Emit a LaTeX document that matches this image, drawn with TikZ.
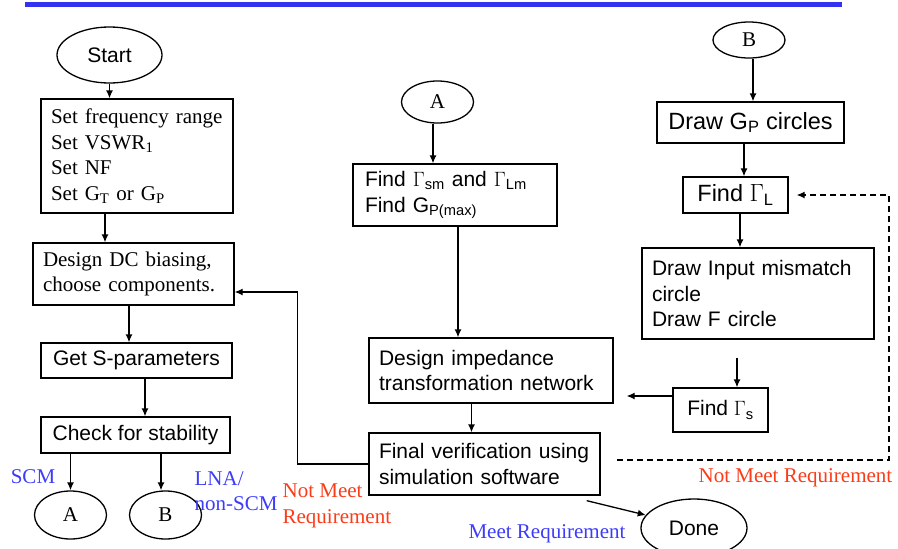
\documentclass[tikz,border=0pt]{standalone}
\usepackage{fontspec}
\setmainfont{Liberation Serif}
\setsansfont{Liberation Sans}
\usetikzlibrary{shapes.geometric,calc,arrows.meta}
\definecolor{barblue}{RGB}{50,50,240}
\definecolor{lblue}{RGB}{60,60,250}
\definecolor{lred}{RGB}{250,60,25}
\newcommand{\fsz}{\fontsize{21}{25.5}\selectfont}
\newcommand{\fbig}{\fontsize{23.5}{28}\selectfont}
\newcommand{\gam}[1]{$\Gamma$\textsubscript{#1}}

\begin{document}
\begin{tikzpicture}[x=1pt,y=-1pt,>={Latex[length=8pt,width=7pt]},line width=1.3pt,
    box/.style={draw,rectangle,inner xsep=10pt,inner ysep=0pt,font=\sffamily\fsz},
    lbox/.style={box,align=left},
    oval/.style={draw,ellipse,inner sep=0pt,font=\fsz},
    lbl/.style={inner sep=0pt,font=\fsz,align=left}]
  \useasboundingbox (0,0) rectangle (898,549);
  \fill[barblue] (25,2) rectangle (842,7);

  % left column
  \begin{scope}
    \node[oval,font=\sffamily\fsz,minimum width=105,minimum height=56] (start) at (109.5,55) {Start};
    \node[lbox,font=\rmfamily\fsz,text width=172,minimum height=114] (setup) at (137,156)
      {Set frequency range\\Set VSWR\textsubscript{1}\\Set NF\\Set G\textsubscript{T} or G\textsubscript{P}};
    \node[lbox,font=\rmfamily\fsz,text width=181,minimum height=62] (bias) at (133.5,274)
      {Design DC biasing,\\choose components.};
    \node[box,minimum width=191,minimum height=35] (spar) at (136.5,360.5) {Get S-parameters};
    \node[box,minimum width=189,minimum height=36] (stab) at (135.5,435) {Check for stability};
    \node[oval,minimum width=72,minimum height=48] (goA) at (70.5,515) {A};
    \node[oval,minimum width=72,minimum height=48] (goB) at (165.5,515) {B};

    \draw[->] (start.south) -- (start.south |- setup.north);
    \draw[->] ([xshift=-32pt]setup.south) -- ([xshift=-32pt]setup.south |- bias.north);
    \draw[->] ([xshift=-4.5pt]bias.south) -- ([xshift=-4.5pt]bias.south |- spar.north);
    \draw[->] ([xshift=8.5pt]spar.south) -- ([xshift=8.5pt]spar.south |- stab.north);
    \draw[->] (stab.south -| goA.north) -- (goA.north);
    \draw[->] ([xshift=-4.5pt]goB.north |- stab.south) -- ([xshift=-4.5pt]goB.north);

    \node[lbl,lblue] (scm) at (33,477) {SCM};
    \node[lbl,lblue,anchor=west] (lna) at (194,491) {LNA/\\non-SCM};
  \end{scope}

  % middle column
  \begin{scope}
    \node[oval,minimum width=72,minimum height=42] (fromA) at (437.5,102) {A};
    \node[lbox,inner xsep=12pt,text width=180,minimum height=62] (gmax) at (455,195)
      {Find \gam{sm} and \gam{Lm}\\Find G\textsubscript{P(max)}};
    \node[lbox,text width=224,minimum height=65] (imp) at (491,370.5)
      {Design impedance\\transformation network};
    \node[lbox,text width=211,minimum height=62] (fin) at (484.5,464)
      {Final verification using\\simulation software};
    \node[oval,font=\sffamily\fsz,minimum width=106,minimum height=58] (done) at (694,528) {Done};

    \draw[->] ([xshift=-4.5pt]fromA.south) -- ([xshift=-4.5pt]fromA.south |- gmax.north);
    \draw[->] ([xshift=3pt]gmax.south) -- ([xshift=3pt]gmax.south |- imp.north);
    \draw[->] ([xshift=-19.5pt]imp.south) -- ([xshift=-19.5pt]imp.south |- fin.north);
    \draw[->] ([xshift=-14pt,yshift=-5pt]fin.south east) -- (done.165);
    \draw[->] (fin.west) -- ++(-71,0) |- ([yshift=-18pt]bias.east);

    \node[lbl,lred,anchor=west] (nmleft) at (282,506) {Not Meet\\Requirement};
    \node[lbl,lblue] (meet) at (547,534) {Meet Requirement};
  \end{scope}

  % right column
  \begin{scope}
    \node[oval,minimum width=72,minimum height=36] (fromB) at (749,40) {B};
    \node[box,font=\sffamily\fbig,minimum width=187,minimum height=41] (gpc) at (750.5,122.5)
      {Draw G\textsubscript{P} circles};
    \node[box,font=\sffamily\fbig,minimum width=105,minimum height=36] (findL) at (735.5,195)
      {Find \gam{L}};
    \node[lbox,text width=212,minimum height=91] (mism) at (758,293.5)
      {Draw Input mismatch\\circle\\Draw F circle};
    \node[box,minimum width=95,minimum height=44] (findS) at (720.5,410) {Find \gam{s}};
    \coordinate (nmstart) at (617,460);

    \draw[->] ([xshift=4pt]fromB.south) -- ([xshift=4pt]fromB.south |- gpc.north);
    \draw[->] ([xshift=-6.5pt]gpc.south) -- ([xshift=-6.5pt]gpc.south |- findL.north);
    \draw[->] ([xshift=4.5pt]findL.south) -- ([xshift=4.5pt]findL.south |- mism.north);
    \draw[->,shorten <=18pt] ([xshift=-21pt]mism.south) -- ([xshift=-21pt]mism.south |- findS.north);
    \draw[->,shorten >=13pt] ([yshift=14pt]findS.west) -- ([yshift=14pt]findS.west -| imp.east);
    \draw[->,dash pattern=on 6pt off 4pt,shorten >=8pt] (nmstart) -- ++(272,0) |- (findL.east);

    \node[lbl,lred,anchor=west] (nmright) at (698,478) {Not Meet Requirement};
  \end{scope}
\end{tikzpicture}
\end{document}
